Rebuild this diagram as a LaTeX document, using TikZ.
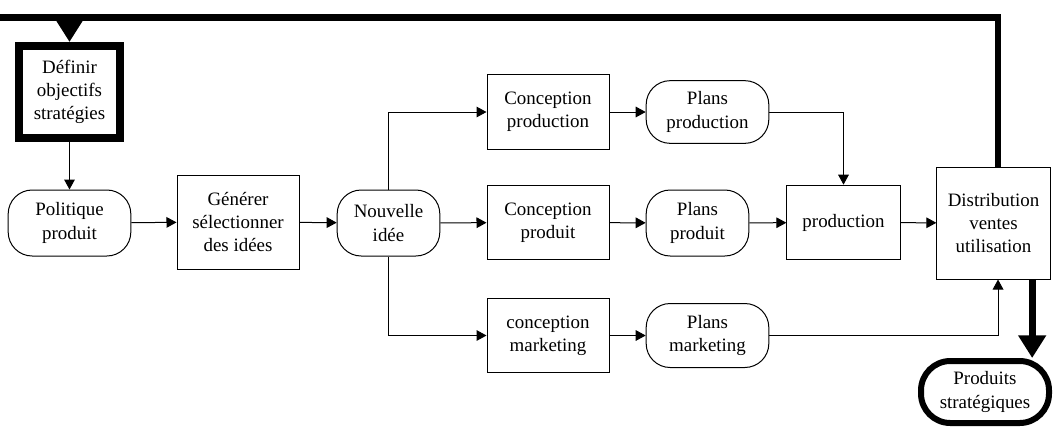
\documentclass[tikz,border=0pt]{standalone}
\usepackage{fontspec}
\setmainfont{Liberation Serif}
\usetikzlibrary{arrows.meta}
\begin{document}
\begin{tikzpicture}[x=0.75pt, y=-0.75pt,
  font=\fontsize{14.2}{17.4}\selectfont,
  blk/.style={draw, line width=0.75pt, align=center, inner sep=0pt},
  rnd/.style={blk, rounded corners=18pt},
  lnk/.style={line width=0.75pt, -{Triangle[length=7.5pt, width=8pt]}},
  fat/.style={line width=5pt, -{Triangle[length=17pt, width=20pt]}}]
\useasboundingbox (0,0) rectangle (1057,430);
\node[blk, line width=6pt, minimum width=75.75pt, minimum height=69pt] (def) at (69.5,92) {Définir\\objectifs\\stratégies};
\node[rnd, minimum width=92pt, minimum height=49.5pt] (pol) at (69.5,223) {Politique\\produit};
\draw[lnk](def) -- (pol);
\node[blk, minimum width=91.5pt, minimum height=70.5pt] (gen) at (238,222) {Générer\\sélectionner\\des idées};
\draw[lnk](pol) -- (gen);
\node[rnd, minimum width=77pt, minimum height=49.5pt] (nouv) at (388.5,223) {Nouvelle\\idée};
\draw[lnk](gen) -- (nouv);
\node[blk, minimum width=91.5pt, minimum height=56pt] (cprodn) at (548,112) {Conception\\production};
\node[rnd, minimum width=92pt, minimum height=47pt] (pprodn) at (707.5,112) {Plans\\production};
\draw[lnk](nouv.north) |- (cprodn.west);
\draw[lnk](cprodn) -- (pprodn);
\node[blk, minimum width=91.5pt, minimum height=56pt] (cprodt) at (548,222.5) {Conception\\produit};
\node[rnd, minimum width=77pt, minimum height=49.5pt] (pprodt) at (697.5,223) {Plans\\produit};
\draw[lnk](nouv) -- (cprodt);
\draw[lnk](cprodt) -- (pprodt);
\node[blk, minimum width=91.5pt, minimum height=56pt] (cmkt) at (548,335.5) {conception\\marketing};
\node[rnd, minimum width=92pt, minimum height=48pt] (pmkt) at (707.5,335.5) {Plans\\marketing};
\draw[lnk](nouv.south) |- (cmkt.west);
\draw[lnk](cmkt) -- (pmkt);
\node[blk, minimum width=85pt, minimum height=56pt] (prod) at (843.5,222.5) {production};
\draw[lnk](pprodt) -- (prod);
\draw[lnk](pprodn.east) -| (prod.north);
\node[blk, minimum width=85pt, minimum height=84pt] (dist) at (993.5,223) {Distribution\\ventes\\utilisation};
\draw[lnk](prod) -- (dist);
\draw[lnk](pmkt.east) -| ([xshift=3.4pt]dist.south);
\node[rnd, line width=4.5pt, rounded corners=22pt, minimum width=96pt, minimum height=46.5pt] (strat) at (985,392) {Produits\\stratégiques};
\coordinate (top) at (0,17.5);
\draw[fat]([xshift=3.4pt]dist.north) |- (top) -| (def.north);
\draw[fat]([xshift=29pt]dist.south) -- ([xshift=29pt]dist.south |- strat.north);
\end{tikzpicture}
\end{document}
